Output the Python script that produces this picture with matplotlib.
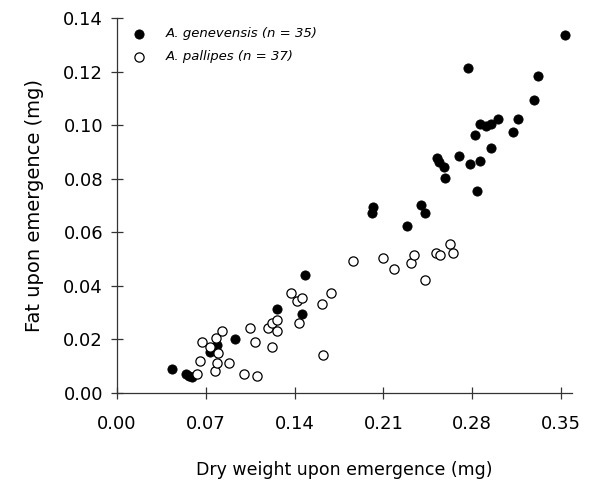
import matplotlib
matplotlib.use('Agg')
import matplotlib.pyplot as plt

# A. genevensis (filled)
gen_x = [0.0431, 0.0541, 0.0565, 0.0595, 0.0737, 0.0788, 0.0928, 0.1258, 0.1457,
         0.1481, 0.2010, 0.2022, 0.2287, 0.2394, 0.2427, 0.2525, 0.2537, 0.2578,
         0.2587, 0.2694, 0.2768, 0.2786, 0.2825, 0.2837, 0.2858, 0.2864, 0.2908,
         0.2950, 0.2947, 0.3006, 0.3122, 0.3164, 0.3286, 0.3318, 0.3530]
gen_y = [0.0091, 0.0072, 0.0064, 0.0059, 0.0152, 0.0178, 0.0202, 0.0315, 0.0294,
         0.0442, 0.0672, 0.0693, 0.0622, 0.0703, 0.0673, 0.0876, 0.0863, 0.0845,
         0.0804, 0.0886, 0.1212, 0.0854, 0.0965, 0.0755, 0.0866, 0.1004, 0.0997,
         0.1004, 0.0914, 0.1024, 0.0974, 0.1024, 0.1095, 0.1184, 0.1335]

# A. pallipes (open)
pal_x = [0.0630, 0.0651, 0.0669, 0.0737, 0.0770, 0.0782, 0.0791, 0.0800, 0.0830,
         0.0886, 0.1002, 0.1047, 0.1091, 0.1100, 0.1190, 0.1219, 0.1219, 0.1261,
         0.1261, 0.1371, 0.1418, 0.1457, 0.1436, 0.1613, 0.1625, 0.1689, 0.1864,
         0.2096, 0.2186, 0.2316, 0.2343, 0.2429, 0.2518, 0.2547, 0.2622, 0.2646]
pal_y = [0.0072, 0.0121, 0.0191, 0.0173, 0.0083, 0.0204, 0.0113, 0.0150, 0.0231,
         0.0111, 0.0072, 0.0241, 0.0191, 0.0062, 0.0241, 0.0263, 0.0173, 0.0271,
         0.0231, 0.0374, 0.0342, 0.0354, 0.0262, 0.0333, 0.0142, 0.0374, 0.0493,
         0.0503, 0.0463, 0.0484, 0.0514, 0.0423, 0.0524, 0.0514, 0.0555, 0.0524]

x_ticks = [0.00, 0.07, 0.14, 0.21, 0.28, 0.35]
y_ticks = [0.00, 0.02, 0.04, 0.06, 0.08, 0.10, 0.12, 0.14]

fig = plt.figure(figsize=(5.92, 4.88), dpi=100)
ax = fig.add_axes([0.1976, 0.1947, 0.7686, 0.7684])

ax.scatter(gen_x, gen_y, s=44, c='black', edgecolors='black', linewidths=0.6,
           label='A. genevensis (n = 35)', zorder=3)
ax.scatter(pal_x, pal_y, s=44, c='white', edgecolors='black', linewidths=0.9,
           label='A. pallipes (n = 37)', zorder=3)

ax.set_xlim(0, 0.3587)
ax.set_ylim(0, 0.14)
ax.set_xticks(x_ticks)
ax.set_yticks(y_ticks)
ax.set_xticklabels(['%.2f' % v for v in x_ticks])
ax.set_yticklabels(['%.2f' % v for v in y_ticks])

for side in ['top', 'right']:
    ax.spines[side].set_visible(False)
for side in ['left', 'bottom']:
    ax.spines[side].set_color('#333333')
    ax.spines[side].set_linewidth(0.9)
ax.tick_params(direction='inout', length=8, width=0.9, color='#333333',
               labelsize=13, pad=6)
ax.tick_params(axis='x', pad=12)

ax.set_xlabel('Dry weight upon emergence (mg)', fontsize=12.5, labelpad=20)
ax.set_ylabel('Fat upon emergence (mg)', fontsize=14, labelpad=14)

leg = ax.legend(loc='upper left', frameon=False,
                prop={'style': 'italic', 'size': 9.5}, handletextpad=1.0,
                borderaxespad=0.3, labelspacing=0.75, scatterpoints=1,
                bbox_to_anchor=(0.0, 1.0))

fig.savefig('out.png', dpi=100, facecolor='white')
